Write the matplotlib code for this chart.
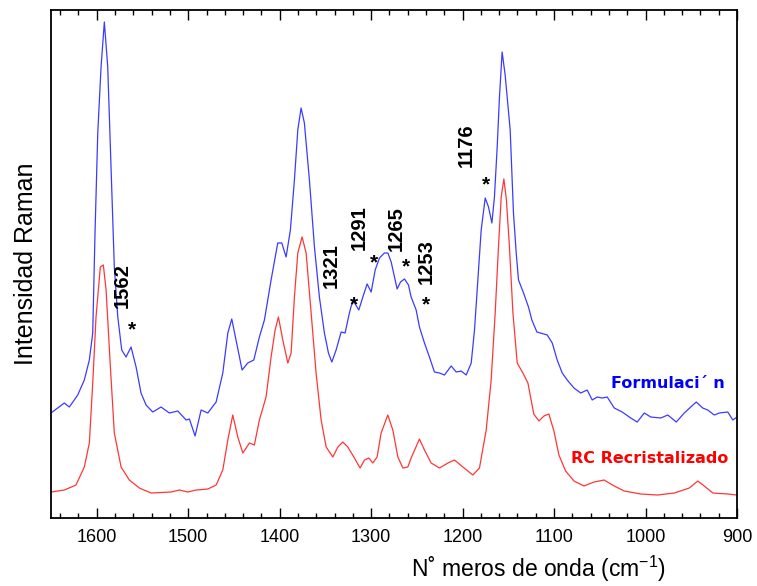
import matplotlib
matplotlib.use('Agg')
import matplotlib.pyplot as plt
import numpy as np

plt.rcParams['font.family'] = ['Liberation Sans', 'DejaVu Sans']
plt.rcParams['mathtext.fontset'] = 'custom'
plt.rcParams['mathtext.rm'] = 'Liberation Sans'

# Formulacion spectrum (blue), wavenumber cm-1 / intensity (a.u.)
form_wn = [1650, 1635.5, 1630, 1620.8, 1613.6, 1608.1, 1604.4, 1601.9, 1598.9, 1595.3,
           1591.7, 1588, 1584.4, 1580.8, 1577, 1572.7, 1568, 1562.5, 1557, 1551.6,
           1546.1, 1538.8, 1529.7, 1520.6, 1511.4, 1502.3, 1498.7, 1492.5, 1485.9, 1478.6,
           1469.5, 1462.2, 1456.7, 1452.4, 1447.7, 1441.1, 1434.9, 1428.3, 1422.2, 1416.7,
           1409.4, 1402.1, 1397.7, 1393, 1388.3, 1383.9, 1380.2, 1376.6, 1373, 1367.5,
           1362, 1356.6, 1351.1, 1346.7, 1343, 1338.3, 1332.8, 1328.5, 1323.8, 1320,
           1313.5, 1309.1, 1304.4, 1300, 1295.6, 1290.9, 1285.5, 1281.7, 1278.1, 1274.5,
           1271.6, 1267.9, 1263.6, 1259.2, 1256.3, 1250.8, 1247.2, 1241.7, 1236.3, 1230.8,
           1225.3, 1219.8, 1212.5, 1207, 1201.6, 1196.1, 1190.6, 1187, 1183.3, 1179.7,
           1175.3, 1171.7, 1168, 1165.2, 1162.2, 1159.7, 1156.8, 1153.5, 1148, 1144.4,
           1141.4, 1138.9, 1133.4, 1128, 1124.3, 1118.8, 1107.5, 1102, 1096.6, 1091.1,
           1085.6, 1078.3, 1070.9, 1063.8, 1058.3, 1052.8, 1047.4, 1041.9, 1034.2, 1025.5,
           1016.2, 1009.1, 1001.4, 994.3, 983.4, 975.7, 966.4, 957.7, 944.6, 937.5,
           932, 924.9, 919.4, 910.1, 904.6, 900]
form_int = [105, 115, 111, 123, 138, 158, 185, 285, 385, 451,
            496, 451, 351, 251, 201, 168, 161, 171, 151, 125,
            113, 106, 111, 105, 107, 98, 99, 82, 108, 105,
            116, 145, 185, 199, 178, 148, 155, 158, 181, 198,
            238, 275, 275, 261, 288, 338, 388, 410, 395, 338,
            271, 221, 185, 165, 156, 168, 186, 185, 205, 218,
            208, 221, 234, 226, 248, 260, 265, 265, 256, 241,
            229, 236, 239, 233, 221, 208, 191, 175, 161, 146,
            145, 143, 152, 146, 147, 143, 155, 188, 238, 288,
            320, 311, 295, 321, 371, 421, 466, 443, 388, 305,
            265, 238, 225, 211, 198, 186, 183, 175, 158, 145,
            138, 130, 125, 128, 118, 121, 120, 121, 110, 106,
            100, 96, 105, 101, 100, 103, 96, 105, 116, 110,
            108, 103, 105, 106, 98, 101]

# RC Recristalizado spectrum (red)
rc_wn = [1650, 1635.5, 1622.7, 1613.6, 1608.1, 1604.4, 1600.8, 1596.1, 1592.8, 1589.8,
         1585.1, 1580.8, 1573.4, 1564.4, 1553.4, 1540.6, 1518.8, 1509.7, 1500.5, 1491.4,
         1478.6, 1469.5, 1462.2, 1456.7, 1451.3, 1445.8, 1440.3, 1433.1, 1427.7, 1422.2,
         1414.9, 1409.4, 1405, 1401.4, 1396.6, 1391.1, 1387.5, 1383.9, 1380.2, 1375.5,
         1371.1, 1365.6, 1360.2, 1354.7, 1349.2, 1341.9, 1336.4, 1331, 1325.5, 1318.3,
         1312.1, 1307.3, 1302.5, 1298.2, 1293.5, 1289.1, 1281.8, 1276.3, 1270.8, 1265.3,
         1259.9, 1256.3, 1247.2, 1241.7, 1234.4, 1225.3, 1216.1, 1208.9, 1199.7, 1188.8,
         1181.6, 1174.2, 1168.8, 1164.4, 1160.8, 1157.8, 1154.9, 1152.1, 1148.8, 1145,
         1140.3, 1134.1, 1128.6, 1122.2, 1116.6, 1111.1, 1105.7, 1100.2, 1094.7, 1087.4,
         1078.2, 1067.3, 1056.3, 1045.3, 1034.2, 1023.3, 1005, 986.8, 968.6, 952.2,
         942.9, 935.8, 926.4, 910, 900]
rc_int = [26, 28, 33, 51, 75, 135, 201, 251, 253, 228,
          151, 85, 51, 38, 30, 25, 26, 28, 26, 28,
          29, 33, 48, 78, 103, 81, 65, 75, 73, 98,
          121, 161, 188, 201, 178, 155, 165, 221, 265, 281,
          265, 205, 145, 98, 71, 61, 71, 76, 71, 60,
          50, 58, 60, 55, 61, 85, 103, 88, 61, 50,
          51, 60, 79, 68, 55, 50, 55, 58, 51, 43,
          50, 88, 138, 205, 271, 321, 339, 318, 271, 205,
          155, 145, 135, 104, 97, 102, 104, 87, 63, 47,
          37, 32, 36, 38, 32, 27, 24, 23, 25, 30,
          37, 32, 25, 24, 23]

# peak labels: text, label position, asterisk position
peak_labels = ['1562', '1321', '1291', '1265', '1253', '1176']
label_x = [1571.6, 1343.8, 1313.1, 1272.7, 1239.9, 1196.1]
label_y = [232, 252, 290, 289, 256, 373]
star_x = [1561.4, 1318.6, 1296.7, 1261.7, 1239.9, 1174.2]
star_y = [188, 213, 255, 251, 213, 333]

fig = plt.figure(figsize=(7.57, 5.86), dpi=100)
ax = fig.add_axes([0.0674, 0.116, 0.9062, 0.867])

ax.plot(form_wn, form_int, color='#3b3bff', lw=0.9)
ax.plot(rc_wn, rc_int, color='#ff3636', lw=0.9)

for t, lx, ly, sx, sy in zip(peak_labels, label_x, label_y, star_x, star_y):
    ax.text(lx, ly, t, rotation=90, fontsize=14.5, fontweight='bold',
            ha='center', va='center')
    ax.text(sx, sy, '*', fontsize=15, fontweight='bold', ha='center', va='center')

ax.text(976, 135, 'Formulaci\u00b4 n', color='#0000ff', fontsize=11.5,
        fontweight='bold', ha='center', va='center', family='DejaVu Sans')
ax.text(995, 60, 'RC Recristalizado', color='#ff0000', fontsize=11.5,
        fontweight='bold', ha='center', va='center', family='DejaVu Sans')

ax.set_xlim(1650, 900)
ax.set_ylim(0, 508)
ax.set_xticks(np.arange(1600, 899, -100))
ax.set_xticks(np.arange(1640, 899, -20), minor=True)
ax.set_yticks([])
ax.tick_params(axis='x', which='both', direction='in', top=True, labelsize=13, pad=8)
ax.tick_params(axis='x', which='major', length=7, width=1)
ax.tick_params(axis='x', which='minor', length=3.5, width=1)
for s in ax.spines.values():
    s.set_linewidth(1.3)

xl = ax.set_xlabel('N\u02da meros de onda (cm$^{\\mathrm{-1}}$)', fontsize=16.5)
xl.set_verticalalignment('baseline')
ax.xaxis.set_label_coords(0.711, -0.116)
ax.set_ylabel('Intensidad Raman', fontsize=18)
ax.yaxis.set_label_coords(-0.019, 0.5)

plt.savefig('out.png', dpi=100)
plt.close()
